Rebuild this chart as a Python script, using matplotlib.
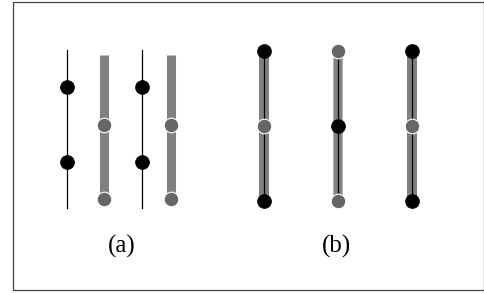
import matplotlib.pyplot as plt
from matplotlib.patches import Rectangle

# panel (a): thin black rods with two black beads, thick gray rods with two gray beads
a_black_x = [67, 142]
a_black_top, a_black_bot = 50, 208
a_black_beads = [87, 162]
a_gray_x = [104, 171]
a_gray_top, a_gray_bot = 55, 199
a_gray_beads = [125, 199]

# panel (b): gray rod with black core, three beads each
b_x = [264, 338, 412]
b_top, b_bot = 51, 201
b_beads_y = [51, 126, 201]
b_bead_colors = [['k', 'g', 'k'], ['g', 'k', 'g'], ['k', 'g', 'k']]

labels = ['(a)', '(b)']
label_x = [122, 337]
label_y = 246

gray_rod = '#808080'
gray_bead = '#666666'

fig = plt.figure(figsize=(4.85, 2.93), dpi=100)
ax = fig.add_axes([0, 0, 1, 1])
ax.set_xlim(0, 485)
ax.set_ylim(293, 0)
ax.axis('off')

ax.add_patch(Rectangle((13, 2), 471, 288, fill=False, ec='#444444', lw=0.9))

for x in a_black_x:
    ax.plot([x, x], [a_black_top, a_black_bot], color='k', lw=0.9, zorder=2)
    ax.plot([x] * len(a_black_beads), a_black_beads, 'o', ms=10, mfc='k',
            mec='k', mew=0.5, zorder=3)

for x in a_gray_x:
    ax.plot([x, x], [a_gray_top, a_gray_bot], color=gray_rod, lw=6.5,
            solid_capstyle='butt', zorder=2)
    ax.plot([x] * len(a_gray_beads), a_gray_beads, 'o', ms=10.5, mfc=gray_bead,
            mec='white', mew=0.8, zorder=3)

for i, x in enumerate(b_x):
    edge = '#b0b0b0' if i == 1 else gray_rod
    ax.plot([x, x], [b_top, b_bot], color=edge, lw=7.2,
            solid_capstyle='butt', zorder=1)
    ax.plot([x, x], [b_top, b_bot], color=gray_rod, lw=5.5,
            solid_capstyle='butt', zorder=1.5)
    ax.plot([x, x], [b_top, b_bot], color='k', lw=0.9, zorder=2)
    for y, c in zip(b_beads_y, b_bead_colors[i]):
        if c == 'k':
            ax.plot(x, y, 'o', ms=10, mfc='k', mec='k', mew=0.5, zorder=3)
        else:
            ax.plot(x, y, 'o', ms=10.5, mfc=gray_bead, mec='white', mew=0.8, zorder=3)

for lx, t in zip(label_x, labels):
    ax.text(lx, label_y, t, ha='center', va='center', fontsize=18,
            family='Liberation Serif')

fig.savefig('out.png', dpi=100)
